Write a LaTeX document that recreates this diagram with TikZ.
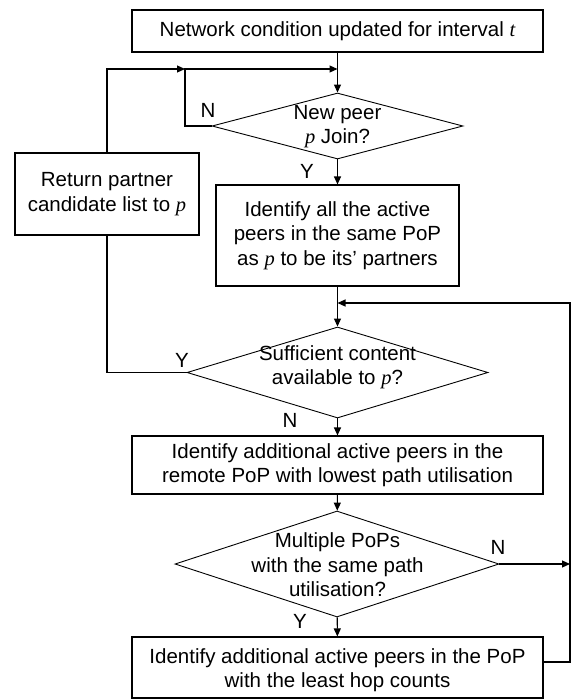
\documentclass[tikz,border=0pt]{standalone}
\usepackage{fontspec}
\setmainfont{Liberation Sans}
\newfontfamily\tms{Liberation Serif}
\usetikzlibrary{shapes.geometric,arrows.meta}
\newcommand{\vr}[1]{{\tms\itshape #1}}
\begin{document}
\begin{tikzpicture}[x=1pt,y=-1pt,
  every node/.style={font=\fontsize{20.5}{24.5}\selectfont},
  box/.style={draw, line width=1.1pt, rectangle, inner sep=0pt, align=center},
  dia/.style={draw, line width=0.9pt, diamond, inner sep=0pt},
  txt/.style={align=center, inner sep=0pt},
  lbl/.style={inner sep=0pt},
  conn/.style={line width=1.1pt},
  arr/.style={conn, -{Triangle[length=8pt,width=7pt]}}]
\useasboundingbox (0,0) rectangle (571,699);
% boxes
\node[box, minimum width=411pt, minimum height=42pt] (top) at (337.5,31) {Network condition updated for interval \vr{t}};
\node[box, minimum width=184pt, minimum height=82pt] (ret) at (107,194) {Return partner\\candidate list to \vr{p}};
\node[box, minimum width=243pt, minimum height=101pt] (b2) at (337.5,235.5) {Identify all the active\\peers in the same PoP\\as \vr{p} to be its’ partners};
\node[box, minimum width=411pt, minimum height=58pt] (b3) at (337.5,465) {Identify additional active peers in the\\remote PoP with lowest path utilisation};
\node[box, minimum width=411pt, minimum height=61pt] (b4) at (337.5,667.5) {};
\node[txt] (b4t) at (337.5,670) {Identify additional active peers in the PoP\\with the least hop counts};
% decisions
\node[dia, minimum width=251pt, minimum height=66pt] (d1) at (337.5,126) {};
\node[txt] (d1t) at (337.5,126.5) {New peer\\\vr{p} Join?};
\node[dia, minimum width=301pt, minimum height=91pt] (d2) at (337.5,372.5) {};
\node[txt] (d2t) at (337.5,367) {Sufficient content\\available to \vr{p}?};
\node[dia, minimum width=324pt, minimum height=106pt] (d3) at (337,564) {};
\node[txt] (d3t) at (337.5,565) {Multiple PoPs\\with the same path\\utilisation?};
% helper coordinates
\coordinate (m1) at (337.5,69);
\coordinate (lp) at (185,69);
\coordinate (rx) at (570,303);
\coordinate (m2) at (337.5,303);
\coordinate (fb) at (570,662);
% connectors
\draw[arr] (top) -- (d1);
\draw[arr] (d1.west) -- (d1.west -| lp) -- (lp) -- (m1);
\draw[arr] (ret.north) |- (lp);
\draw[arr] (d1) -- (b2);
\draw[arr] (b2) -- (d2);
\draw[conn] (d2.west) -| (ret.south);
\draw[arr] (d2) -- (b3);
\draw[arr] (b3) -- (d3);
\draw[arr] (d3.east) -- (d3.east -| rx);
\draw[arr] (d3) -- (b4);
\draw[arr] (b4.east |- fb) -- (fb) -- (rx) -- (m2);
% labels
\node[lbl] (ln1) at (208,110) {N};
\node[lbl] (ly1) at (307,171) {Y};
\node[lbl] (ly2) at (182,360) {Y};
\node[lbl] (ln2) at (290,420) {N};
\node[lbl] (ln3) at (498,547) {N};
\node[lbl] (ly3) at (300,621) {Y};
\end{tikzpicture}
\end{document}
